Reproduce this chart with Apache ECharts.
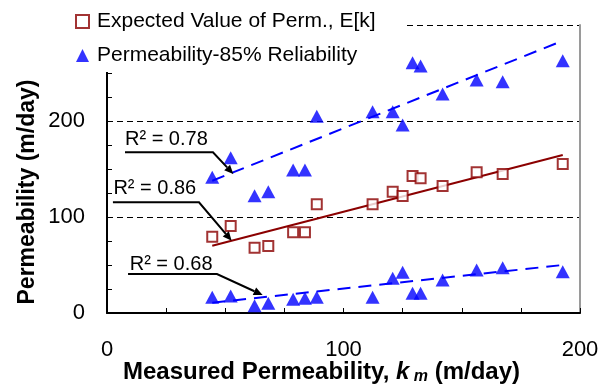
<!DOCTYPE html>
<html>
<head>
<meta charset="utf-8">
<script src="https://cdn.jsdelivr.net/npm/echarts@6/dist/echarts.min.js"></script>
<style>
  html, body { margin: 0; padding: 0; background: #fff; }
  #chart { width: 604px; height: 392px; }
</style>
</head>
<body>
<div id="chart"></div>
<script>
// Measured permeability k_m (m/day) of each sample
const kMeasured = [44.5, 52.3, 62.4, 68.2, 78.7, 83.7, 88.7, 112.3, 120.8, 125.0, 129.2, 132.6, 141.9, 156.3, 167.3, 192.7];
// Expected value of permeability E[k] (m/day)
const expectedPerm = [79.5, 90.6, 68.0, 69.8, 84.0, 84.0, 113.2, 113.2, 126.4, 121.9, 142.7, 140.3, 132.3, 146.5, 144.8, 155.2];
// Permeability at 85% reliability, upper and lower bounds (m/day)
const reliabilityUpper = [141.3, 161.8, 122.2, 126.4, 149.0, 149.0, 205.0, 209.7, 209.7, 195.8, 260.7, 257.3, 228.1, 242.7, 241.0, 262.8];
const reliabilityLower = [16.4, 17.7, 7.6, 10.1, 14.2, 15.3, 16.4, 16.4, 36.1, 42.4, 20.5, 20.5, 34.4, 44.8, 47.2, 43.0];

// Linear trend lines: end points over the measured range
const trendX = [44.5, 192.7];
const trendUpper = [137.8, 283.6];
const trendExpected = [70.1, 164.6];
const trendLower = [10.7, 50.0];

// Coefficients of determination of the three fits
const r2Labels = ['R² = 0.78', 'R² = 0.86', 'R² = 0.68'];

// Axis ranges and labelled ticks
const xRange = [0, 200];
const yRange = [0, 300];
const xTickLabels = [0, 100, 200];
const yTickLabels = [0, 100, 200];

const seriesNames = ['Expected Value of Perm., E[k]', 'Permeability-85% Reliability'];

const FONT = '"Liberation Sans", Arial, sans-serif';
const RED = '#8b0000';
const BLUE = '#0000ff';

const pairs = (xs, ys) => xs.map((x, i) => [x, ys[i]]);

const chart = echarts.init(document.getElementById('chart'), null, { renderer: 'canvas' });

const option = {
  backgroundColor: '#fff',
  animation: false,
  grid: { left: 107, right: 24, top: 25, bottom: 79, containLabel: false, outerBoundsMode: 'none' },
  legend: {
    orient: 'vertical',
    left: 60,
    top: 0,
    padding: [11, 30, 6, 15],
    backgroundColor: '#fff',
    itemWidth: 13,
    itemHeight: 13,
    itemGap: 13,
    data: seriesNames,
    textStyle: { fontFamily: FONT, fontSize: 21, color: '#000', lineHeight: 20, padding: [0, 0, 0, 3] },
    z: 10
  },
  xAxis: [{
    type: 'value',
    min: xRange[0], max: xRange[1], interval: 100,
    axisLine: { show: true, lineStyle: { color: '#000', width: 2 } },
    axisTick: { show: true, inside: true, length: 5, lineStyle: { color: '#000', width: 1 } },
    minorTick: { show: true, splitNumber: 4, length: 5, lineStyle: { color: '#000', width: 1 } },
    splitLine: { show: false },
    axisLabel: {
      margin: 26, fontFamily: FONT, fontSize: 22, color: '#000',
      formatter: v => xTickLabels.includes(v) ? String(v) : ''
    },
    name: '{b|Measured Permeability, }{k|k}{s| m}{b| (m/day)}',
    nameLocation: 'middle',
    nameGap: 46,
    nameMoveOverlap: false,
    nameTextStyle: {
      padding: [0, 44, 0, 0],
      rich: {
        b: { fontFamily: FONT, fontSize: 24, fontWeight: 'bold', color: '#000', lineHeight: 26 },
        k: { fontFamily: FONT, fontSize: 24, fontWeight: 'bold', fontStyle: 'italic', color: '#000', lineHeight: 26 },
        s: { fontFamily: FONT, fontSize: 16, fontWeight: 'bold', fontStyle: 'italic', color: '#000', lineHeight: 26, verticalAlign: 'bottom', padding: [6, 0, 0, 0] }
      }
    }
  }],
  yAxis: [{
    type: 'value',
    min: yRange[0], max: yRange[1], interval: 100,
    axisLine: { show: true, lineStyle: { color: '#000', width: 2 } },
    axisTick: { show: true, inside: true, length: 5, lineStyle: { color: '#000', width: 1 } },
    minorTick: { show: true, splitNumber: 4, length: 5, lineStyle: { color: '#000', width: 1 } },
    splitLine: { show: true, lineStyle: { color: '#000', width: 1, type: [6, 4] } },
    axisLabel: {
      margin: 22, fontFamily: FONT, fontSize: 22, color: '#000',
      formatter: v => yTickLabels.includes(v) ? String(v) : ''
    },
    name: 'Permeability (m/day)',
    nameLocation: 'middle',
    nameGap: 68,
    nameRotate: 90,
    nameMoveOverlap: false,
    nameTextStyle: { fontFamily: FONT, fontSize: 23, fontWeight: 'bold', color: '#000', padding: [0, 46, 0, 0] }
  }, {
    type: 'value',
    position: 'right',
    min: yRange[0], max: yRange[1],
    axisLine: { show: true, onZero: false, lineStyle: { color: '#9a9a9a', width: 2 } },
    axisTick: { show: false },
    axisLabel: { show: false },
    splitLine: { show: false }
  }],
  series: [
    {
      name: 'trend-expected',
      type: 'line',
      data: pairs(trendX, trendExpected),
      symbol: 'none',
      silent: true,
      lineStyle: { color: RED, width: 2 },
      z: 2
    },
    {
      name: 'trend-upper',
      type: 'line',
      data: pairs(trendX, trendUpper),
      symbol: 'none',
      silent: true,
      lineStyle: { color: BLUE, width: 2, type: [13, 8] },
      z: 2
    },
    {
      name: 'trend-lower',
      type: 'line',
      data: pairs(trendX, trendLower),
      symbol: 'none',
      silent: true,
      lineStyle: { color: BLUE, width: 2, type: [13, 8] },
      z: 2
    },
    {
      name: seriesNames[0],
      type: 'scatter',
      data: pairs(kMeasured, expectedPerm),
      symbol: 'rect',
      symbolSize: 10,
      symbolKeepAspect: true,
      itemStyle: { color: '#fff', borderColor: RED, borderWidth: 2 },
      z: 3
    },
    {
      name: seriesNames[1],
      type: 'scatter',
      data: pairs(kMeasured, reliabilityUpper),
      symbol: 'triangle',
      symbolSize: [14, 13],
      itemStyle: { color: BLUE },
      z: 3
    },
    {
      name: seriesNames[1],
      type: 'scatter',
      data: pairs(kMeasured, reliabilityLower),
      symbol: 'triangle',
      symbolSize: [14, 13],
      itemStyle: { color: BLUE },
      z: 3
    }
  ]
};

chart.setOption(option);

// Callouts: label baseline start, underline (y, x start, x end) and arrow tip, in data units
const callouts = [
  { text: r2Labels[0], tx: 7.6, ty: 173.2, uy: 167.4, ux0: 7.6, ux1: 44.8, tip: [53.4, 144.8] },
  { text: r2Labels[1], tx: 2.7, ty: 122.9, uy: 115.3, ux0: 2.5, ux1: 38.9, tip: [52.7, 75.3] },
  { text: r2Labels[2], tx: 9.6, ty: 43.0, uy: 40.6, ux0: 8.9, ux1: 46.5, tip: [65.8, 18.75] }
];

function toPx(p) {
  return chart.convertToPixel({ xAxisIndex: 0, yAxisIndex: 0 }, p);
}

const graphics = [];
callouts.forEach(c => {
  const t = toPx([c.tx, c.ty]);
  const a = toPx([c.ux0, c.uy]);
  const b = toPx([c.ux1, c.uy]);
  const tip = toPx(c.tip);
  const dx = tip[0] - b[0], dy = tip[1] - b[1];
  const len = Math.hypot(dx, dy);
  const ux = dx / len, uy = dy / len;
  const headLen = 9, headHalf = 4;
  const base = [tip[0] - ux * headLen, tip[1] - uy * headLen];
  graphics.push({
    type: 'text',
    x: t[0], y: t[1] + 3,
    z: 20,
    style: { text: c.text, font: '20px ' + FONT, fill: '#000', textAlign: 'left', textVerticalAlign: 'bottom' }
  });
  graphics.push({
    type: 'polyline',
    z: 20,
    shape: { points: [a, b, base] },
    style: { stroke: '#000', lineWidth: 2, fill: null }
  });
  graphics.push({
    type: 'polygon',
    z: 20,
    shape: { points: [tip, [base[0] - uy * headHalf, base[1] + ux * headHalf], [base[0] + uy * headHalf, base[1] - ux * headHalf]] },
    style: { fill: '#000' }
  });
});

chart.setOption({ graphic: graphics });
</script>
</body>
</html>
